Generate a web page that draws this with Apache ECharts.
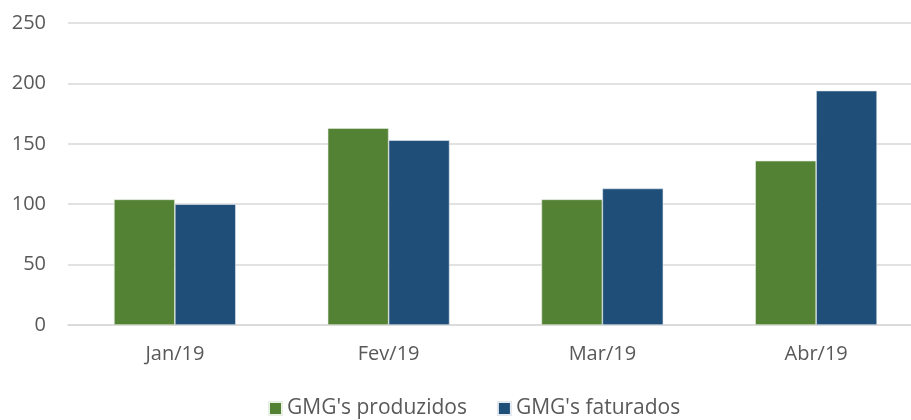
<!DOCTYPE html>
<html>
<head>
<meta charset="utf-8">
<script src="https://cdn.jsdelivr.net/npm/echarts@6/dist/echarts.min.js"></script>
<style>
  html, body { margin: 0; padding: 0; background: #fff; }
  #chart { width: 911px; height: 420px; }
</style>
</head>
<body>
<div id="chart"></div>
<script>
const months = ['Jan/19', 'Fev/19', 'Mar/19', 'Abr/19']
const produzidos = [104, 163, 104, 136]
const faturados = [100, 153, 113, 194]

const textColor = '#595959'
const font = '"Open Sans", "Noto Sans", sans-serif'

const chart = echarts.init(document.getElementById('chart'))
chart.setOption({
  backgroundColor: '#fff',
  animation: false,
  grid: { left: 68, top: 23, width: 855, height: 302, outerBoundsMode: 'none' },
  legend: {
    bottom: -4,
    left: 263,
    itemWidth: 13,
    itemHeight: 13,
    itemGap: 30,
    icon: 'rect',
    textStyle: { color: textColor, fontSize: 21, fontFamily: font },
    data: ["GMG's produzidos", "GMG's faturados"]
  },
  xAxis: {
    type: 'category',
    data: months,
    axisLine: { lineStyle: { color: '#d9d9d9', width: 1.5 } },
    axisTick: { show: false },
    axisLabel: { color: textColor, fontSize: 20, fontFamily: font, margin: 19 }
  },
  yAxis: {
    type: 'value',
    min: 0,
    max: 250,
    interval: 50,
    axisLine: { show: false },
    axisTick: { show: false },
    splitLine: { lineStyle: { color: '#d9d9d9', width: 1.5 } },
    axisLabel: { color: textColor, fontSize: 20, fontFamily: font, margin: 22 }
  },
  series: [
    {
      name: "GMG's produzidos",
      type: 'bar',
      data: produzidos,
      barGap: '0%',
      barCategoryGap: '43%',
      itemStyle: { color: '#548235', borderColor: '#e8efe3', borderWidth: 0.6 }
    },
    {
      name: "GMG's faturados",
      type: 'bar',
      data: faturados,
      itemStyle: { color: '#1f4e79', borderColor: '#e3e9ef', borderWidth: 0.6 }
    }
  ]
})
</script>
</body>
</html>
